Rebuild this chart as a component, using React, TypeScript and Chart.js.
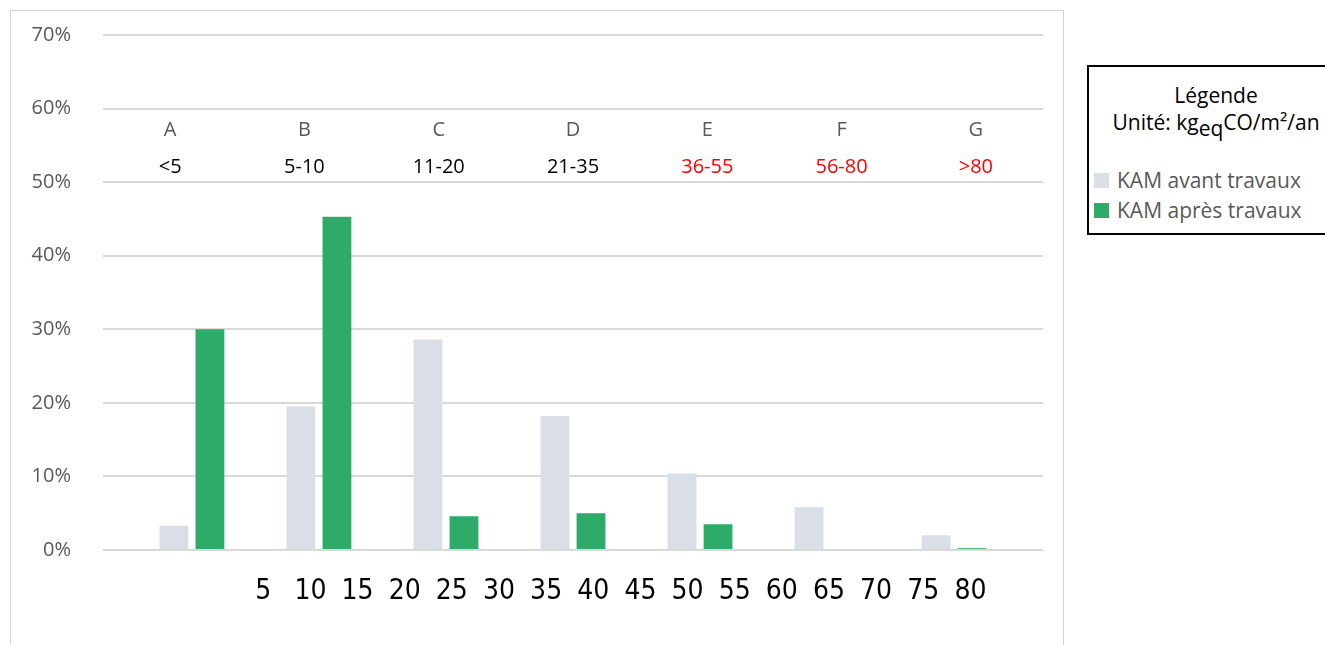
import React, { useEffect, useRef } from "react";
import { Chart, registerables } from "chart.js";

Chart.register(...registerables);

// ---- Data ----
const CLASS_LETTERS = ["A", "B", "C", "D", "E", "F", "G"];
const CLASS_RANGES = ["<5", "5-10", "11-20", "21-35", "36-55", "56-80", ">80"];
const RANGE_COLORS = ["#000000", "#000000", "#000000", "#000000", "#ff0000", "#ff0000", "#ff0000"];
const SERIES_NAMES = ["KAM avant travaux", "KAM après travaux"];
const KAM_AVANT = [3.3, 19.5, 28.6, 18.2, 10.4, 5.8, 2.0];
const KAM_APRES = [30.0, 45.3, 4.6, 5.0, 3.5, 0, 0.25];
const Y_TICKS = [0, 10, 20, 30, 40, 50, 60, 70];
const SCALE_LABELS = [5, 10, 15, 20, 25, 30, 35, 40, 45, 50, 55, 60, 65, 70, 75, 80];
const LEGEND_TITLE = "Légende";
const UNIT_PREFIX = "Unité: kg";
const UNIT_SUB = "eq";
const UNIT_SUFFIX = "CO/m²/an";

const COLORS = ["#dadee6", "#2eab68"];
const FONT = "'Open Sans', 'DejaVu Sans', sans-serif";

const classLabelsPlugin = {
  id: "classLabels",
  afterDatasetsDraw(chart: any) {
    const { ctx, chartArea, scales } = chart;
    const w = (chartArea.right - chartArea.left) / CLASS_LETTERS.length;
    ctx.save();
    ctx.textAlign = "center";
    ctx.textBaseline = "middle";
    CLASS_LETTERS.forEach((letter, i) => {
      const x = chartArea.left + (i + 0.5) * w;
      ctx.font = `20px ${FONT}`;
      ctx.fillStyle = "#595959";
      ctx.fillText(letter, x, scales.y.getPixelForValue(57.0));
      ctx.fillStyle = RANGE_COLORS[i];
      ctx.fillText(CLASS_RANGES[i], x, scales.y.getPixelForValue(52.0));
    });
    ctx.restore();
  },
};

export default function App() {
  const canvasRef = useRef<HTMLCanvasElement | null>(null);

  useEffect(() => {
    if (!canvasRef.current) return;
    const chart = new Chart(canvasRef.current, {
      type: "bar",
      data: {
        datasets: [
          {
            label: SERIES_NAMES[0],
            data: KAM_AVANT.map((v, i) => ({ x: i, y: v })),
            backgroundColor: COLORS[0],
            categoryPercentage: 0.567,
            barPercentage: 0.8,
          },
          {
            label: SERIES_NAMES[1],
            data: KAM_APRES.map((v, i) => ({ x: i, y: v })),
            backgroundColor: COLORS[1],
            categoryPercentage: 0.567,
            barPercentage: 0.8,
          },
        ],
      },
      options: {
        animation: false,
        responsive: false,
        maintainAspectRatio: false,
        layout: { padding: { left: 0, right: 20, top: 35, bottom: 0 } },
        plugins: {
          legend: { display: false },
          tooltip: { enabled: false },
        },
        scales: {
          x: {
            type: "linear",
            min: -0.7,
            max: 6.7,
            offset: false,
            display: false,
            grid: { offset: false },
            afterBuildTicks: (scale: any) => {
              scale.ticks = CLASS_LETTERS.map((_, i) => ({ value: i }));
            },
          },
          x2: {
            type: "linear",
            position: "bottom",
            min: -12,
            max: 87.7,
            offset: false,
            afterBuildTicks: (scale: any) => {
              scale.ticks = SCALE_LABELS.map((v) => ({ value: v }));
            },
            afterFit: (scale: any) => {
              scale.height = 95;
              scale.paddingLeft = 0;
              scale.paddingRight = 0;
            },
            grid: { display: false, drawTicks: false, offset: false },
            border: { display: false },
            ticks: {
              autoSkip: false,
              maxRotation: 0,
              padding: 25,
              color: "#000000",
              font: { family: "'Liberation Sans Narrow', 'DejaVu Sans Condensed', sans-serif", size: 28 },
            },
          },
          y: {
            type: "linear",
            min: 0,
            max: 70,
            afterBuildTicks: (scale: any) => {
              scale.ticks = Y_TICKS.map((v) => ({ value: v }));
            },
            afterFit: (scale: any) => {
              scale.width = 103;
              scale.paddingTop = 12;
              scale.paddingBottom = 12;
            },
            grid: { color: "#d9d9d9", lineWidth: 2, drawTicks: false },
            border: { display: false },
            ticks: {
              padding: 32,
              color: "#595959",
              font: { family: FONT, size: 20 },
              callback: (v: any) => `${v}%`,
            },
          },
        },
      },
      plugins: [classLabelsPlugin],
    });
    return () => chart.destroy();
  }, []);

  return (
    <div
      style={{
        position: "absolute",
        left: 0,
        top: 0,
        width: 1325,
        height: 645,
        overflow: "hidden",
        background: "#ffffff",
        fontFamily: FONT,
      }}
    >
      <div
        style={{
          position: "absolute",
          left: 10,
          top: 10,
          width: 1054,
          height: 700,
          border: "1px solid #d4d4d4",
          boxSizing: "border-box",
        }}
      />
      <canvas
        ref={canvasRef}
        width={1063}
        height={645}
        style={{ position: "absolute", left: 0, top: 0, width: 1063, height: 645 }}
      />
      <div
        style={{
          position: "absolute",
          left: 1087,
          top: 65,
          width: 260,
          height: 170,
          border: "2px solid #000000",
          boxSizing: "border-box",
        }}
      >
        <div
          style={{
            position: "absolute",
            left: 0,
            width: 254,
            top: 14,
            textAlign: "center",
            fontSize: 21,
            lineHeight: "28px",
            color: "#000000",
          }}
        >
          {LEGEND_TITLE}
        </div>
        <div
          style={{
            position: "absolute",
            left: 0,
            width: 254,
            top: 41,
            textAlign: "center",
            fontSize: 21,
            lineHeight: "28px",
            color: "#000000",
            whiteSpace: "nowrap",
          }}
        >
          {UNIT_PREFIX}
          <span style={{ position: "relative", top: 6 }}>{UNIT_SUB}</span>
          {UNIT_SUFFIX}
        </div>
        {SERIES_NAMES.map((name, i) => (
          <div
            key={name}
            style={{
              position: "absolute",
              left: 5,
              top: 99 + i * 30,
              height: 28,
              display: "flex",
              alignItems: "center",
              fontSize: 21,
              color: "#595959",
              whiteSpace: "nowrap",
            }}
          >
            <span
              style={{
                display: "inline-block",
                width: 15,
                height: 15,
                background: COLORS[i],
                marginRight: 8,
              }}
            />
            {name}
          </div>
        ))}
      </div>
    </div>
  );
}
